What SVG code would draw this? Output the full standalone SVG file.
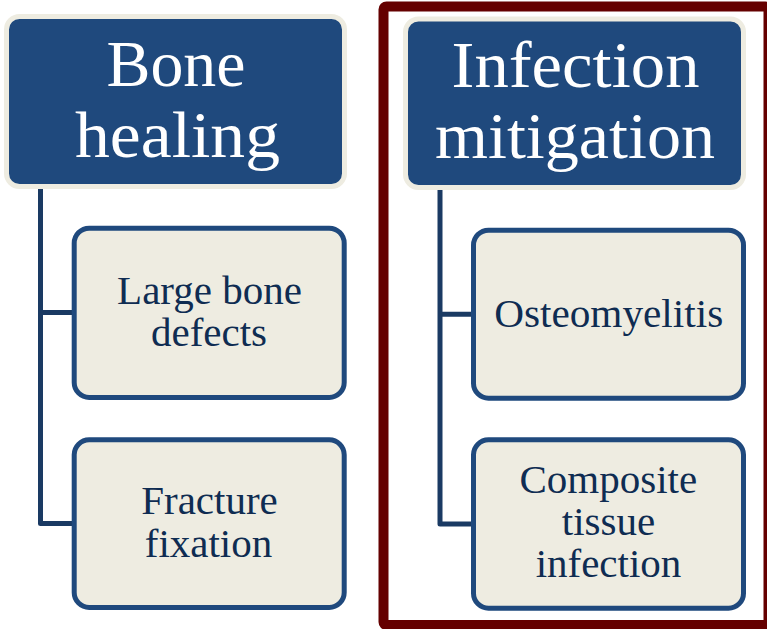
<svg xmlns="http://www.w3.org/2000/svg" width="767" height="629" viewBox="0 0 767 629">
<style>
.hdr{fill:#1F497D;stroke:#EEECE1;stroke-width:5}
.child{fill:#EEECE1;stroke:#1F497D;stroke-width:5}
.ht{font-family:"Liberation Serif","Times New Roman",serif;font-size:65px;fill:#FFFFFF;text-anchor:middle}
.ct{font-family:"Liberation Serif","Times New Roman",serif;font-size:41px;fill:#0F2C52;text-anchor:middle}
.conn{fill:none;stroke:#1A3A63;stroke-width:5;stroke-linejoin:round}
</style>
<rect id="frame" x="383.5" y="6.5" width="385" height="618.5" rx="3" fill="#FFFFFF" stroke="#650000" stroke-width="10"/>
<g id="connectors">
<path class="conn" d="M40.5,184 V523.5 H74"/>
<path class="conn" d="M40.5,312.5 H74"/>
<path class="conn" d="M440,186 V524 H473"/>
<path class="conn" d="M440,314.3 H473"/>
</g>
<g id="bone-healing">
<rect class="hdr" x="6.5" y="16.5" width="338" height="170" rx="13"/>
<text class="ht" x="176" y="85.7" textLength="139" lengthAdjust="spacingAndGlyphs">Bone</text>
<text class="ht" x="177.5" y="157" textLength="205" lengthAdjust="spacingAndGlyphs">healing</text>
</g>
<g id="large-bone-defects">
<rect class="child" x="74.2" y="228.2" width="270" height="169.3" rx="15"/>
<text class="ct" x="209.5" y="304">Large bone</text>
<text class="ct" x="209" y="345.7">defects</text>
</g>
<g id="fracture-fixation">
<rect class="child" x="74.2" y="439.8" width="270" height="167.7" rx="15"/>
<text class="ct" x="209.5" y="514.3">Fracture</text>
<text class="ct" x="208.5" y="556.7">fixation</text>
</g>
<g id="infection-mitigation">
<rect class="hdr" x="405.5" y="19" width="338" height="168.5" rx="13"/>
<text class="ht" x="575.5" y="87.3" textLength="248" lengthAdjust="spacingAndGlyphs">Infection</text>
<text class="ht" x="575" y="158.3" textLength="280" lengthAdjust="spacingAndGlyphs">mitigation</text>
</g>
<g id="osteomyelitis">
<rect class="child" x="473.5" y="230.2" width="270" height="168" rx="15"/>
<text class="ct" x="608.7" y="327" textLength="229" lengthAdjust="spacingAndGlyphs">Osteomyelitis</text>
</g>
<g id="composite-tissue-infection">
<rect class="child" x="473.5" y="439.8" width="270" height="168.4" rx="15"/>
<text class="ct" x="608.3" y="492.7">Composite</text>
<text class="ct" x="608.5" y="535">tissue</text>
<text class="ct" x="608.5" y="576.7">infection</text>
</g>
</svg>
